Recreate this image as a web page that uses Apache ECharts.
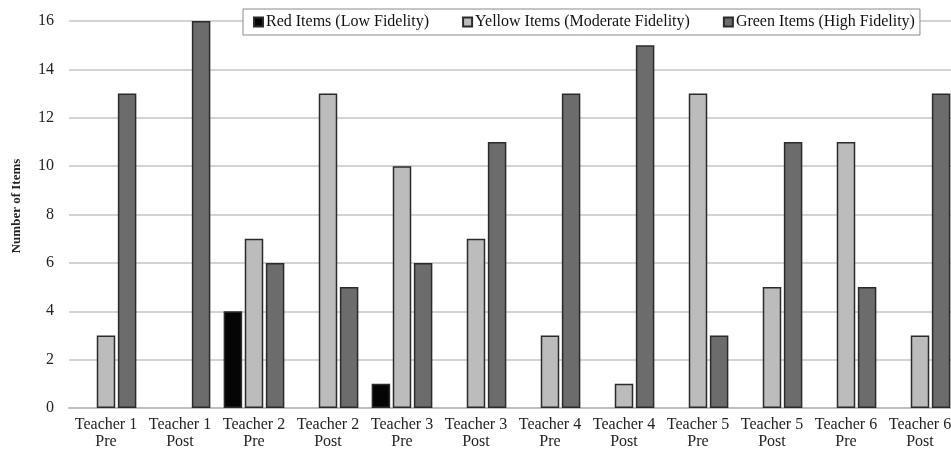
<!DOCTYPE html>
<html>
<head>
<meta charset="utf-8">
<script src="https://cdn.jsdelivr.net/npm/echarts@6/dist/echarts.min.js"></script>
<style>
  html, body { margin: 0; padding: 0; background: #fff; }
  #chart { width: 951px; height: 451px; }
</style>
</head>
<body>
<div id="chart"></div>
<script>
// Fidelity item counts per teacher observation
const categories = [
  'Teacher 1\nPre', 'Teacher 1\nPost', 'Teacher 2\nPre', 'Teacher 2\nPost',
  'Teacher 3\nPre', 'Teacher 3\nPost', 'Teacher 4\nPre', 'Teacher 4\nPost',
  'Teacher 5\nPre', 'Teacher 5\nPost', 'Teacher 6\nPre', 'Teacher 6\nPost'
];
const redItems    = [0, 0, 4, 0, 1, 0, 0, 0, 0, 0, 0, 0];
const yellowItems = [3, 0, 7, 13, 10, 7, 3, 1, 13, 5, 11, 3];
const greenItems  = [13, 16, 6, 5, 6, 11, 13, 15, 3, 11, 5, 13];
const seriesNames = [
  'Red Items (Low Fidelity)',
  'Yellow Items (Moderate Fidelity)',
  'Green Items (High Fidelity)'
];
const yTicks = { min: 0, max: 16, interval: 2 };
const yAxisTitle = 'Number of Items';

const font = 'Liberation Serif, Times New Roman, serif';

function barSeries(name, data, color) {
  return {
    name: name,
    type: 'bar',
    data: data.map(v => (v === 0 ? null : v)),
    barGap: '14%',
    barCategoryGap: '18%',
    itemStyle: { color: color, borderColor: '#2b2b2b', borderWidth: 1.5 }
  };
}

const chart = echarts.init(document.getElementById('chart'), null, { renderer: 'canvas' });
chart.setOption({
  animation: false,
  backgroundColor: '#fff',
  textStyle: { fontFamily: font },
  // plot area runs slightly past the right edge of the canvas
  grid: { left: 69, width: 888, top: 21, bottom: 43, containLabel: false, outerBoundsMode: 'none' },
  legend: {
    top: 9,
    left: 243,
    itemWidth: 9,
    itemHeight: 9,
    itemGap: 33,
    padding: [5, 5, 5, 10],
    backgroundColor: '#fff',
    borderColor: '#8a8a8a',
    borderWidth: 1,
    borderRadius: 0,
    textStyle: { fontFamily: font, fontSize: 16, color: '#111', padding: [0, 0, 0, -2] },
    data: seriesNames.map(n => ({ name: n, icon: 'rect' }))
  },
  xAxis: {
    type: 'category',
    data: categories,
    axisLine: { show: true, lineStyle: { color: '#bdbdbd', width: 2 } },
    axisTick: { show: false },
    axisLabel: { fontFamily: font, fontSize: 16, color: '#222', lineHeight: 17, margin: 8, interval: 0 }
  },
  yAxis: {
    type: 'value',
    min: yTicks.min,
    max: yTicks.max,
    interval: yTicks.interval,
    axisLine: { show: false },
    axisTick: { show: false },
    axisLabel: { fontFamily: font, fontSize: 16, color: '#222', margin: 15 },
    splitLine: { lineStyle: { color: '#c4c4c4', width: 1.5 } }
  },
  graphic: [{
    type: 'text',
    x: 17,
    y: 206,
    rotation: Math.PI / 2,
    style: {
      text: yAxisTitle,
      fontFamily: font,
      fontSize: 13,
      fontWeight: 'bold',
      fill: '#222',
      textAlign: 'center',
      textVerticalAlign: 'middle'
    }
  }],
  series: [
    barSeries(seriesNames[0], redItems, '#050505'),
    barSeries(seriesNames[1], yellowItems, '#bcbcbc'),
    barSeries(seriesNames[2], greenItems, '#6c6c6c')
  ]
});
</script>
</body>
</html>
